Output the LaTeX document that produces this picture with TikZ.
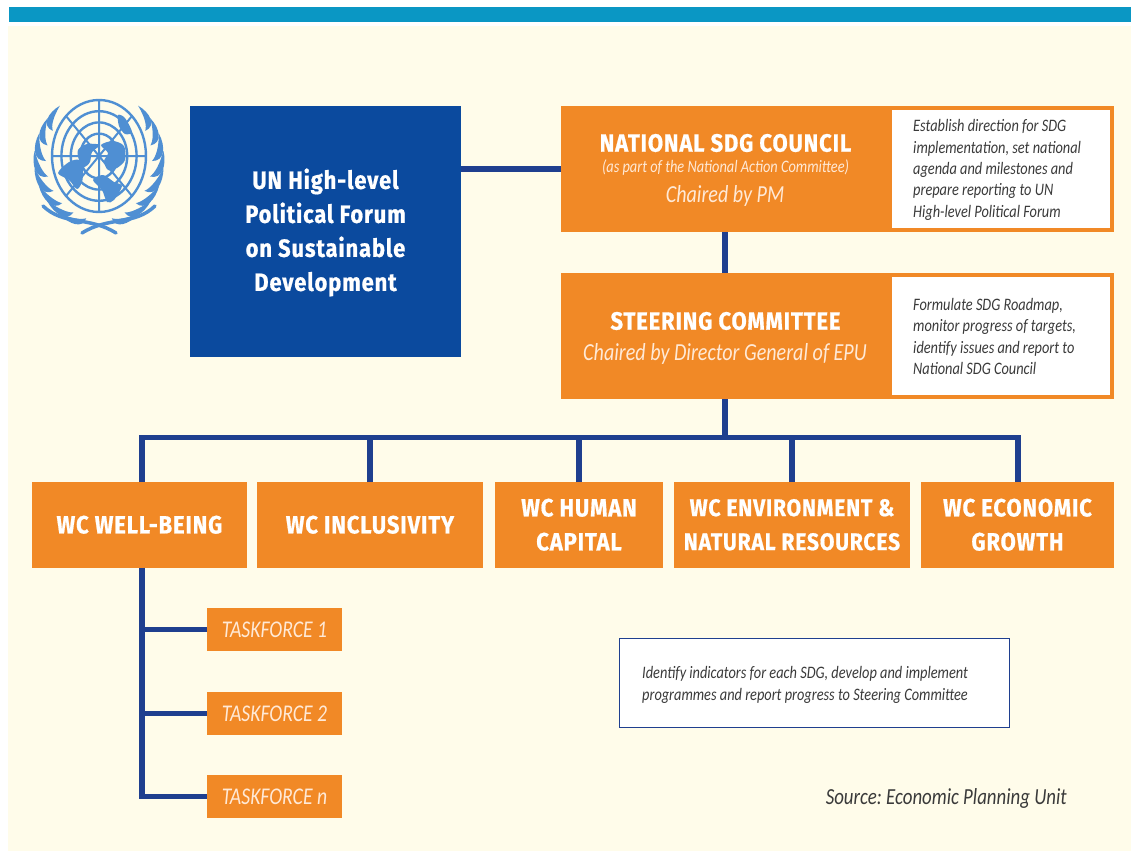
\documentclass[tikz,border=0pt]{standalone}
\usepackage{fontspec}
\setmainfont[FakeStretch=0.82]{Carlito}
\newfontfamily\headfont[LetterSpace=3.4,FakeStretch=0.88,BoldFeatures={FakeBold=0.7}]{Fira Sans}
\usetikzlibrary{calc}
\definecolor{barblue}{HTML}{0A97C4}
\definecolor{cream}{HTML}{FFFCEA}
\definecolor{unblue}{HTML}{0B4A9E}
\definecolor{orange1}{HTML}{F18926}
\definecolor{navyline}{HTML}{1F3F8F}
\definecolor{emblem}{HTML}{4F8FD3}
\definecolor{paletxt}{HTML}{FFE9D6}
\definecolor{darktxt}{HTML}{3A3A3A}
\tikzset{
 x=1pt,y=-1pt,
 box/.style={rectangle,fill=orange1,draw=none,inner sep=0pt,outer sep=0pt,text=white,align=center,font=\headfont\bfseries\fontsize{25}{34}\selectfont},
 descbox/.style={rectangle,fill=white,draw=orange1,line width=4pt,inner sep=0pt,outer sep=0pt},
 notetext/.style={anchor=west,inner sep=0pt,align=left,text=darktxt,font=\itshape\fontsize{17.5}{21.3}\selectfont},
 taskbox/.style={rectangle,fill=orange1,inner sep=0pt,outer sep=0pt,minimum width=135pt,minimum height=43pt,text=paletxt,font=\itshape\fontsize{24}{26}\selectfont},
 link/.style={draw=navyline,line width=5.5pt},
 sub/.style={inner sep=0pt,font=\itshape\fontsize{#1}{#1}\selectfont,text=paletxt},
}
\newcommand{\boxat}[6]{\node[#1,minimum width=#5pt-#3pt,minimum height=#6pt-#4pt] (#2) at ({(#3+#5)/2},{(#4+#6)/2})}
\frenchspacing
\begin{document}
\begin{tikzpicture}
\useasboundingbox (0,0) rectangle (1131,855);
\fill[white] (0,0) rectangle (1131,855);
\fill[cream] (8,26) rectangle (1131,851);
\fill[barblue] (9,7) rectangle (1131,22);
% emblem
\begin{scope}[shift={(99,156)}]
 \foreach \r in {1,0.8,0.6,0.4}{\draw[emblem,line width=2.4pt] (0,0) ellipse [x radius=47*\r,y radius=56*\r];}
 \draw[emblem,line width=2pt] (-47,0) -- (47,0) (0,-56) -- (0,56) (-33,-40) -- (33,40) (33,-40) -- (-33,40);
 \fill[emblem] plot[smooth cycle] coordinates {(-30,6) (-20,4) (-16,14) (-17,26) (-22,33) (-30,24) (-41,17)};
 \fill[emblem] plot[smooth cycle] coordinates {(-21,-6) (-12,-12) (1,-11) (-7,-4) (-9,6) (-15,11) (-20,4)};
 \fill[emblem] plot[smooth cycle] coordinates {(2,-11) (14,-15) (25,-10) (26,4) (18,12) (9,14) (5,5) (9,-3)};
 \fill[emblem] plot[smooth cycle] coordinates {(-6,24) (4,19) (15,26) (23,30) (15,44) (8,46) (3,34)};
 \fill[emblem] plot[smooth cycle] coordinates {(19,-41) (26,-38) (33,-24) (26,-22) (20,-30)};
\end{scope}
\foreach \sx in {1,-1}{
\begin{scope}[shift={(99,160)},xscale=\sx]
 \foreach \t in {104,119,...,212}{
  \pgfmathsetmacro\ta{\t+24}
  \pgfmathsetmacro\tb{\t+12}
  \pgfmathsetmacro\tc{\t+4}
  \fill[emblem] ({53*cos(\t)},{60*sin(\t)}) .. controls ({66*cos(\t)},{71*sin(\t)}) and ({68*cos(\tb)},{72*sin(\tb)}) .. ({65*cos(\ta)},{68*sin(\ta)})
   .. controls ({61*cos(\tb)},{65*sin(\tb)}) and ({57*cos(\tc)},{63*sin(\tc)}) .. cycle;
 }
 \draw[emblem,line width=3.5pt,line cap=round] (-56,46) .. controls (-35,66) and (-10,56) .. (17,73);
\end{scope}}
% nodes
\boxat{box,fill=unblue}{un}{190}{106}{461}{357} {};
\node[box,fill=none] (untext) at (325.5,232.5) {UN High-level\\Political Forum\\on Sustainable\\Development};
\boxat{box}{council}{561}{106}{889}{232} {};
\boxat{descbox}{councildesc}{890}{108}{1112}{230} {};
\boxat{box}{steer}{561}{273}{889}{399} {};
\boxat{descbox}{steerdesc}{890}{275}{1112}{397} {};
\node[box,fill=none] (counciltitle) at (725.5,143) {NATIONAL SDG COUNCIL};
\node[sub=17.5] (councilsub) at (725.5,168) {(as part of the National Action Committee)};
\node[sub=24.5] (councilchair) at (725,196) {Chaired by PM};
\node[box,fill=none] (steertitle) at (725.5,321) {STEERING COMMITTEE};
\node[sub=24.5] (steerchair) at (725,354) {Chaired by Director General of EPU};
\node[notetext] (councilnote) at (913,170) {Establish direction for SDG\\implementation, set national\\agenda and milestones and\\prepare reporting to UN\\High-level Political Forum};
\node[notetext] (steernote) at (913,336.5) {Formulate SDG Roadmap,\\monitor progress of targets,\\identify issues and report to\\National SDG Council};
\boxat{box}{wca}{32}{482}{247}{567.5} {WC WELL-BEING};
\boxat{box}{wcb}{257}{482}{483}{567.5} {WC INCLUSIVITY};
\boxat{box}{wcc}{495}{482}{663}{567.5} {WC HUMAN\\CAPITAL};
\boxat{box,font=\headfont\bfseries\fontsize{24}{34}\selectfont}{wcd}{674}{482}{910}{567.5} {WC ENVIRONMENT \&\\NATURAL RESOURCES};
\boxat{box}{wce}{921}{482}{1114}{567.5} {WC ECONOMIC\\GROWTH};
\node[taskbox] (tfa) at (274.5,629.5) {TASKFORCE 1};
\node[taskbox] (tfb) at (274.5,713.5) {TASKFORCE 2};
\node[taskbox] (tfc) at (274.5,796.5) {TASKFORCE n};
\boxat{rectangle,draw=navyline,line width=1pt,fill=white,inner sep=0pt}{note}{619}{638}{1009}{727} {};
\node[notetext,font=\itshape\fontsize{17.5}{22}\selectfont] (notetext) at (642,685) {Identify indicators for each SDG, develop and implement\\programmes and report progress to Steering Committee};
\node[anchor=east,inner sep=0pt,text=darktxt,font=\itshape\fontsize{23}{25}\selectfont] (source) at (1067,798) {Source: Economic Planning Unit};
% connectors
\coordinate (bus) at ($(steer.south)+(0,38.5)$);
\coordinate (trunk) at ($(wca.south)+(2.5,0)$);
\draw[link] (council.west) -- (council.west -| un.east);
\draw[link] (council.south) -- (steer.north);
\draw[link] (steer.south) -- (bus);
\draw[link] (trunk |- wca.north) |- (bus);
\draw[link] (bus) -| ($(wce.north)+(0.5,0)$);
\draw[link] (wcb.north) -- (wcb.north |- bus);
\draw[link] (wcc.north) -- (wcc.north |- bus);
\draw[link] (wcd.north) -- (wcd.north |- bus);
\draw[link] (trunk) |- (tfc.west);
\draw[link] (tfa.west) -- (tfa.west -| trunk);
\draw[link] (tfb.west) -- (tfb.west -| trunk);
\end{tikzpicture}
\end{document}
